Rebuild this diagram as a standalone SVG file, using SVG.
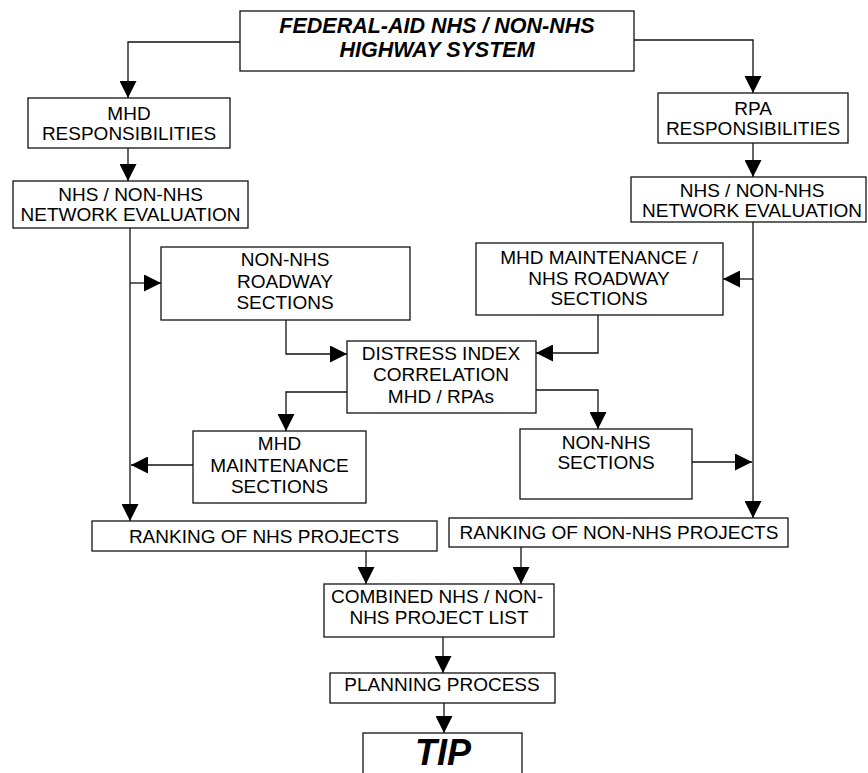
<svg xmlns="http://www.w3.org/2000/svg" width="868" height="773" viewBox="0 0 868 773">
<defs>
<marker id="ah" viewBox="0 0 17 17" refX="17" refY="8.5" markerWidth="17" markerHeight="17" markerUnits="userSpaceOnUse" orient="auto">
<path d="M0,0 L17,8.5 L0,17 z" fill="#000"/>
</marker>
<style>
rect{fill:#fff;stroke:#111;stroke-width:1.3}
text{font-family:"Liberation Sans",Arial,Helvetica,sans-serif;font-size:19px;fill:#000;text-anchor:middle}
.bi{font-weight:bold;font-style:italic;font-size:21.5px}
.tip{font-weight:bold;font-style:italic;font-size:36px}
#connectors path{fill:none;stroke:#111;stroke-width:1.3;marker-end:url(#ah)}
</style>
</defs>
<rect x="0" y="0" width="868" height="773" style="fill:#fff;stroke:none"/>
<g id="connectors">
<path d="M240,42 H128 V98"/>
<path d="M634,40 H753 V93"/>
<path d="M128,148 V181"/>
<path d="M753,143 V177"/>
<path d="M130,228 V521"/>
<path d="M130,283 H161"/>
<path d="M753,222 V518"/>
<path d="M753,279 H723"/>
<path d="M286,320 V354 H347"/>
<path d="M598,315 V353 H536"/>
<path d="M347,392 H286 V431"/>
<path d="M536,390 H598 V429"/>
<path d="M193,465 H131"/>
<path d="M692,462 H752"/>
<path d="M366,551 V584"/>
<path d="M521,547 V584"/>
<path d="M443,637 V673"/>
<path d="M444,703 V733"/>
</g>
<g id="federal">
<rect x="240" y="11" width="394" height="60"/>
<text class="bi" x="437" y="33">FEDERAL-AID NHS / NON-NHS</text>
<text class="bi" x="437" y="57">HIGHWAY SYSTEM</text>
</g>
<g id="mhd-resp">
<rect x="28" y="98" width="202" height="50"/>
<text x="129" y="120">MHD</text>
<text x="129" y="140">RESPONSIBILITIES</text>
</g>
<g id="rpa-resp">
<rect x="658" y="93" width="190" height="50"/>
<text x="753" y="115">RPA</text>
<text x="753" y="135">RESPONSIBILITIES</text>
</g>
<g id="eval-left">
<rect x="13" y="181" width="235" height="47"/>
<text x="130.5" y="201">NHS / NON-NHS</text>
<text x="130.5" y="221">NETWORK EVALUATION</text>
</g>
<g id="eval-right">
<rect x="631" y="177" width="235" height="45"/>
<text x="752" y="197">NHS / NON-NHS</text>
<text x="752" y="217">NETWORK EVALUATION</text>
</g>
<g id="nonnhs-roadway">
<rect x="161" y="247" width="249" height="73"/>
<text x="285" y="266">NON-NHS</text>
<text x="285" y="288">ROADWAY</text>
<text x="285" y="309">SECTIONS</text>
</g>
<g id="mhd-maint-nhs">
<rect x="476" y="243" width="247" height="72"/>
<text x="599" y="264">MHD MAINTENANCE /</text>
<text x="599" y="285">NHS ROADWAY</text>
<text x="599" y="305">SECTIONS</text>
</g>
<g id="distress">
<rect x="347" y="341" width="189" height="72"/>
<text x="441" y="360">DISTRESS INDEX</text>
<text x="441" y="381">CORRELATION</text>
<text x="441" y="403">MHD / RPAs</text>
</g>
<g id="mhd-maint">
<rect x="193" y="431" width="173" height="72"/>
<text x="279.5" y="450">MHD</text>
<text x="279.5" y="472">MAINTENANCE</text>
<text x="279.5" y="493">SECTIONS</text>
</g>
<g id="nonnhs-sections">
<rect x="520" y="429" width="172" height="70"/>
<text x="606" y="449">NON-NHS</text>
<text x="606" y="469">SECTIONS</text>
</g>
<g id="rank-nhs">
<rect x="92" y="521" width="345" height="30"/>
<text x="264" y="543">RANKING OF NHS PROJECTS</text>
</g>
<g id="rank-nonnhs">
<rect x="449" y="518" width="339" height="29"/>
<text x="619" y="539">RANKING OF NON-NHS PROJECTS</text>
</g>
<g id="combined">
<rect x="324" y="584" width="230" height="53"/>
<text x="437" y="603">COMBINED NHS / NON-</text>
<text x="439" y="624">NHS PROJECT LIST</text>
</g>
<g id="planning">
<rect x="330" y="673" width="225" height="30"/>
<text x="442" y="691">PLANNING PROCESS</text>
</g>
<g id="tip">
<rect x="363" y="733" width="159" height="50"/>
<text class="tip" x="443" y="765">TIP</text>
</g>
</svg>
